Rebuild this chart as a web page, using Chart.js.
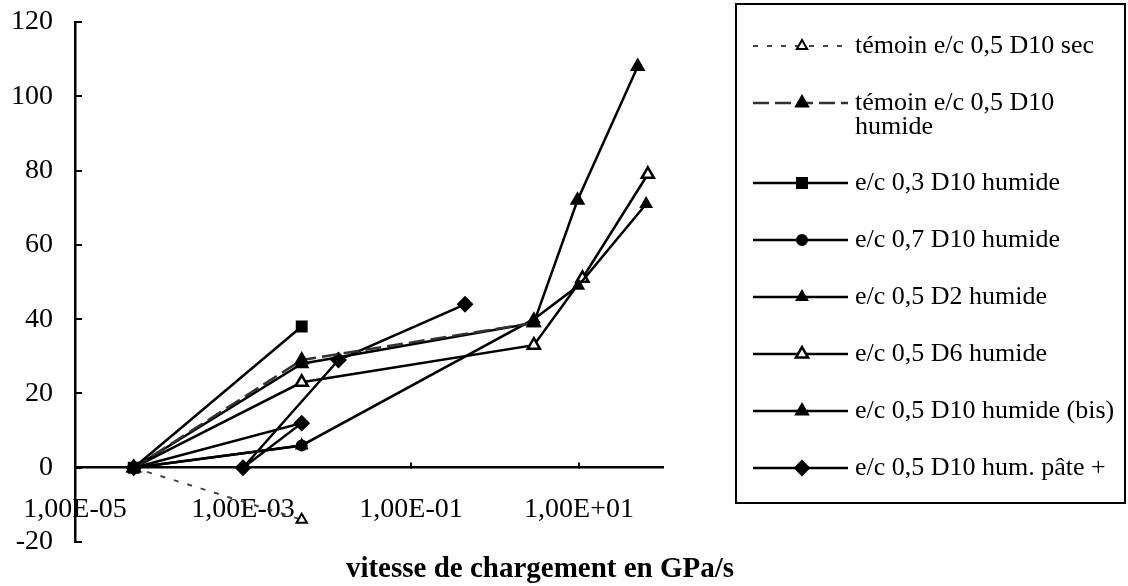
<!DOCTYPE html>
<html>
<head>
<meta charset="utf-8">
<script src="https://cdn.jsdelivr.net/npm/chart.js@4.4.0/dist/chart.umd.min.js"></script>
<style>
  html, body { margin: 0; padding: 0; background: #fff; }
  #wrap { position: relative; width: 1128px; height: 586px; }
</style>
</head>
<body>
<div id="wrap"><canvas id="chart" width="1128" height="586"></canvas></div>
<script>
// tick values
const xTickValues = [1e-5, 1e-3, 1e-1, 1e1];
const yTickStep = 20;

// series names (legend lines)
const seriesNames = [
  ['témoin e/c 0,5 D10 sec'],
  ['témoin e/c 0,5 D10', 'humide'],
  ['e/c 0,3 D10 humide'],
  ['e/c 0,7 D10 humide'],
  ['e/c 0,5 D2 humide'],
  ['e/c 0,5 D6 humide'],
  ['e/c 0,5 D10 humide (bis)'],
  ['e/c 0,5 D10 hum. pâte +'],
];

// loading rate (GPa/s) and values
const secX = [5e-5, 5e-3];
const secY = [0, -14];
const humX = [5e-5, 5e-3, 2.9];
const humY = [0, 29, 39];
const ec03X = [5e-5, 5e-3];
const ec03Y = [0, 38];
const ec07X = [5e-5, 5e-3];
const ec07Y = [0, 6];
const d2X = [5e-5, 5e-3, 2.9, 9.8, 63];
const d2Y = [0, 6, 40, 49, 71];
const d6X = [5e-5, 5e-3, 2.9, 11, 66];
const d6Y = [0, 23, 33, 51, 79];
const bisX = [5e-5, 5e-3, 2.9, 9.6, 50];
const bisY = [0, 28, 39, 72, 108];
const pateX = [5e-5, 5e-3, 1e-3, 1.37e-2, 0.44];
const pateY = [0, 12, 0, 29, 44];

const FONT = "'Liberation Serif', 'Times New Roman', serif";

function pts(xs, ys) {
  return xs.map((x, i) => ({ x: x, y: ys[i] }));
}

function fmtSci(v) {
  const e = Math.round(Math.log10(v));
  const m = v / Math.pow(10, e);
  const sign = e < 0 ? '-' : '+';
  return m.toFixed(2).replace('.', ',') + 'E' + sign + String(Math.abs(e)).padStart(2, '0');
}

function series(i, xs, ys, style) {
  return Object.assign({
    label: seriesNames[i].join(' '),
    data: pts(xs, ys),
    showLine: true,
    borderColor: '#000',
    borderWidth: 2.5,
    pointBorderColor: '#000',
    pointBackgroundColor: '#000',
    pointBorderWidth: 2,
    pointRadius: 6,
    fill: false,
  }, style);
}

const datasets = [
  series(0, secX, secY, { borderDash: [5, 9], borderWidth: 2, borderColor: '#444', pointStyle: 'triangle', pointBackgroundColor: '#fff', pointRadius: 6 }),
  series(1, humX, humY, { borderDash: [16, 6], borderColor: '#333', pointStyle: 'triangle', pointRadius: 7 }),
  series(2, ec03X, ec03Y, { pointStyle: 'rect', pointRadius: 7, order: -1 }), // square on top at the origin
  series(3, ec07X, ec07Y, { pointStyle: 'circle', pointRadius: 5 }),
  series(4, d2X, d2Y, { pointStyle: 'triangle', pointRadius: 6 }),
  series(5, d6X, d6Y, { pointStyle: 'triangle', pointBackgroundColor: '#fff', pointRadius: 7, pointBorderWidth: 2.5 }),
  series(6, bisX, bisY, { pointStyle: 'triangle', pointRadius: 7 }),
  series(7, pateX, pateY, { pointStyle: 'rectRot', pointRadius: 7 }),
];

// legend rows: entries spread evenly in the box
const legendRowY = [46, 103, 183, 240, 297, 354, 411, 468];

function drawMarker(ctx, ds, x, y) {
  ctx.save();
  ctx.fillStyle = ds.pointBackgroundColor;
  ctx.strokeStyle = ds.pointBorderColor;
  ctx.lineWidth = ds.pointBorderWidth;
  Chart.helpers.drawPoint(ctx, { pointStyle: ds.pointStyle, radius: ds.pointRadius, borderWidth: ds.pointBorderWidth, rotation: 0 }, x, y);
  ctx.restore();
}

const extras = {
  id: 'extras',
  afterDraw(chart) {
    const ctx = chart.ctx;
    ctx.save();
    // axis title
    ctx.fillStyle = '#000';
    ctx.font = 'bold 29px ' + FONT;
    ctx.textAlign = 'center';
    ctx.textBaseline = 'middle';
    ctx.fillText('vitesse de chargement en GPa/s', 540, 570);

    // legend
    ctx.strokeStyle = '#000';
    ctx.lineWidth = 2;
    ctx.strokeRect(736, 4, 389, 499);
    ctx.font = '26px ' + FONT;
    ctx.textAlign = 'left';
    chart.data.datasets.forEach((ds, i) => {
      const y = legendRowY[i];
      ctx.save();
      ctx.strokeStyle = ds.borderColor;
      ctx.lineWidth = ds.borderWidth;
      ctx.setLineDash(ds.borderDash || []);
      ctx.beginPath();
      ctx.moveTo(753, y);
      ctx.lineTo(848, y);
      ctx.stroke();
      ctx.restore();
      drawMarker(ctx, ds, 802, y);
      seriesNames[i].forEach((line, k) => {
        ctx.fillText(line, 855, y + k * 24);
      });
    });
    ctx.restore();
  }
};

function noPad(s) {
  s.paddingLeft = 0;
  s.paddingRight = 0;
  s.paddingTop = 0;
  s.paddingBottom = 0;
}

new Chart(document.getElementById('chart'), {
  type: 'scatter',
  data: { datasets: datasets },
  options: {
    responsive: false,
    animation: false,
    layout: { padding: { left: 0, right: 1128 - 663, top: 22, bottom: 44 } },
    plugins: {
      legend: { display: false },
      tooltip: { enabled: false },
    },
    scales: {
      x: {
        type: 'logarithmic',
        min: 1e-5,
        max: 1e2,
        position: { y: 0 },
        z: 1,
        border: { display: true, color: '#000', width: 2.5 },
        grid: { display: true, drawOnChartArea: false, drawTicks: true, tickLength: -6, color: '#000', lineWidth: 2 },
        ticks: {
          color: '#000',
          font: { family: FONT, size: 28 },
          padding: 31,
          maxRotation: 0,
          autoSkip: false,
          showLabelBackdrop: true,
          backdropColor: '#fff',
          backdropPadding: 1,
          callback: (v) => fmtSci(v),
        },
        afterBuildTicks: (s) => { s.ticks = xTickValues.map(v => ({ value: v })); },
        afterFit: (s) => { noPad(s); s.height = 0; },
      },
      y: {
        min: -20,
        max: 120,
        border: { display: true, color: '#000', width: 2.5 },
        grid: { display: true, drawOnChartArea: false, drawTicks: true, tickLength: -7, color: '#000', lineWidth: 2 },
        ticks: {
          stepSize: yTickStep,
          color: '#000',
          font: { family: FONT, size: 28 },
          padding: 29,
        },
        afterFit: (s) => { noPad(s); s.width = 75; },
      },
    },
  },
  plugins: [extras],
});
</script>
</body>
</html>
